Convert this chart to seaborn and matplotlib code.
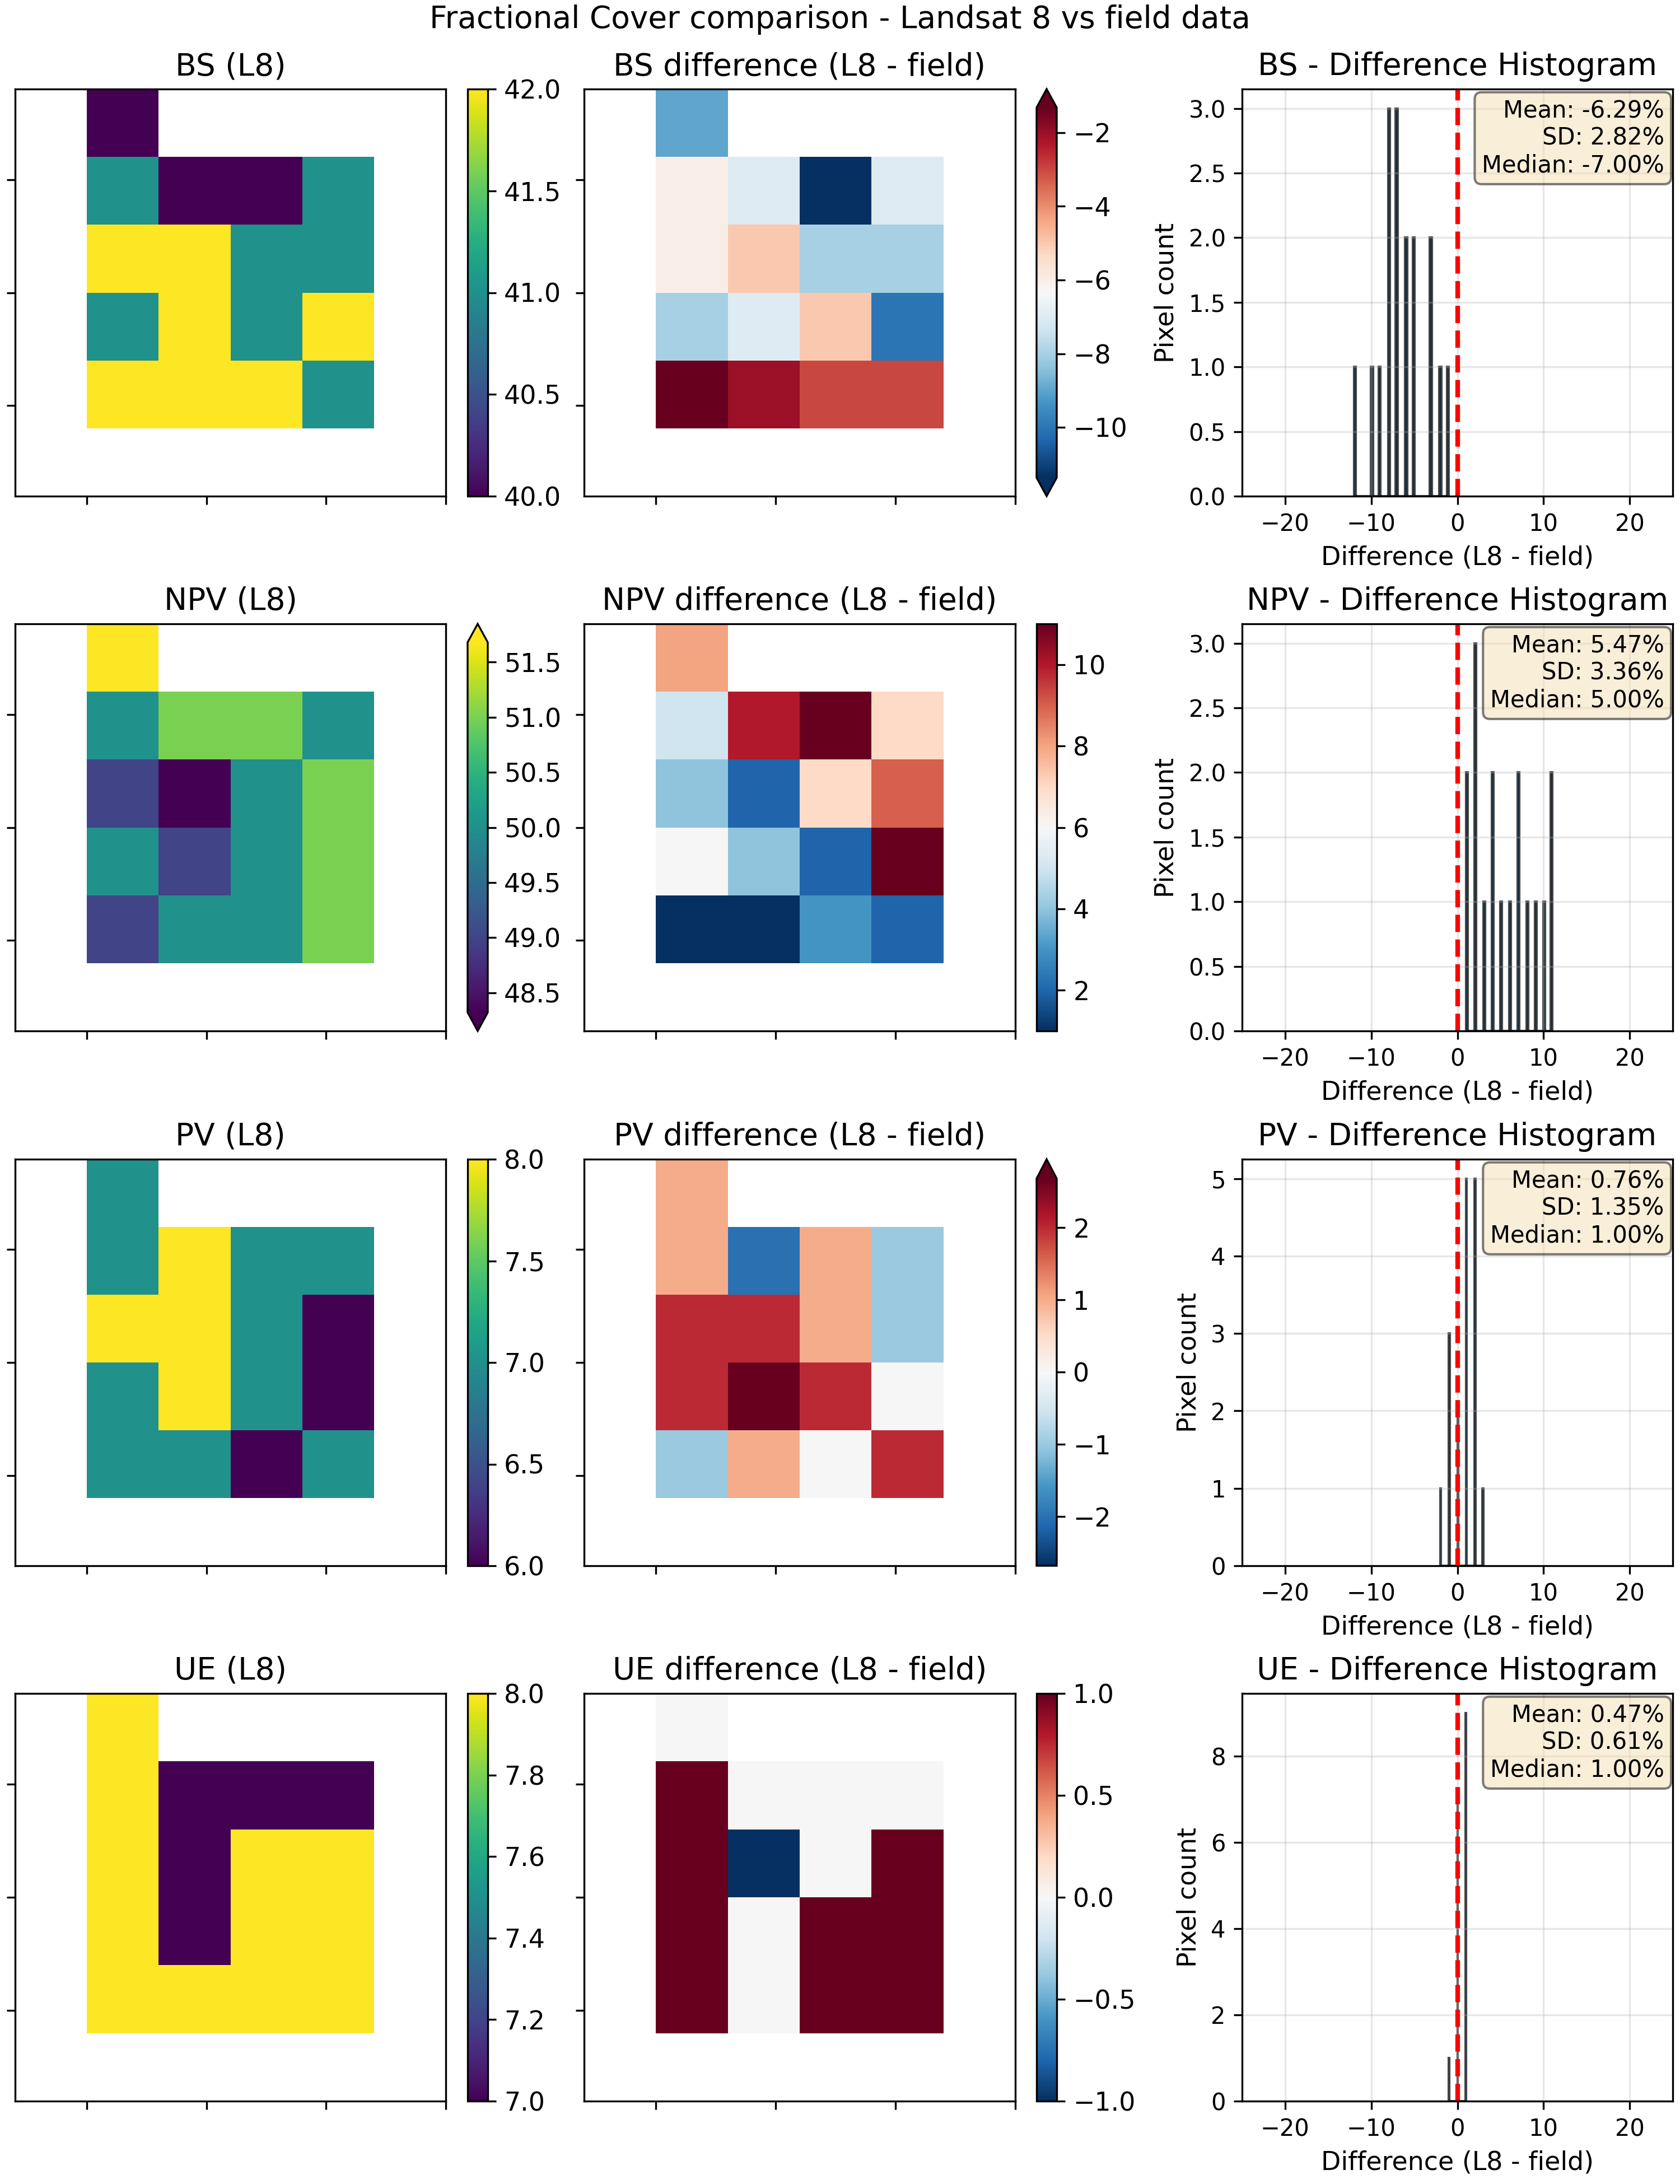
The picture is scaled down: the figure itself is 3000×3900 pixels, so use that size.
import numpy as np
import matplotlib
matplotlib.use('Agg')
import matplotlib.pyplot as plt
import seaborn as sns

plt.rcParams['font.size'] = 11

nan = np.nan

# FRACTIONAL COVER DATA (% cover, 6x6 pixel window, NaN = outside site)
components = ['BS', 'NPV', 'PV', 'UE']

bs_l8 = [[nan, 40, nan, nan, nan, nan],
         [nan, 41, 40, 40, 41, nan],
         [nan, 42, 42, 41, 41, nan],
         [nan, 41, 42, 41, 42, nan],
         [nan, 42, 42, 42, 41, nan],
         [nan, nan, nan, nan, nan, nan]]
bs_diff = [[nan, -9, nan, nan, nan, nan],
           [nan, -6, -7, -12, -7, nan],
           [nan, -6, -5, -8, -8, nan],
           [nan, -8, -7, -5, -10, nan],
           [nan, -1, -2, -3, -3, nan],
           [nan, nan, nan, nan, nan, nan]]

npv_l8 = [[nan, 52, nan, nan, nan, nan],
          [nan, 50, 51, 51, 50, nan],
          [nan, 49, 48, 50, 51, nan],
          [nan, 50, 49, 50, 51, nan],
          [nan, 49, 50, 50, 51, nan],
          [nan, nan, nan, nan, nan, nan]]
npv_diff = [[nan, 8, nan, nan, nan, nan],
            [nan, 5, 10, 11, 7, nan],
            [nan, 4, 2, 7, 9, nan],
            [nan, 6, 4, 2, 11, nan],
            [nan, 1, 1, 3, 2, nan],
            [nan, nan, nan, nan, nan, nan]]

pv_l8 = [[nan, 7, nan, nan, nan, nan],
         [nan, 7, 8, 7, 7, nan],
         [nan, 8, 8, 7, 6, nan],
         [nan, 7, 8, 7, 6, nan],
         [nan, 7, 7, 6, 7, nan],
         [nan, nan, nan, nan, nan, nan]]
pv_diff = [[nan, 1, nan, nan, nan, nan],
           [nan, 1, -2, 1, -1, nan],
           [nan, 2, 2, 1, -1, nan],
           [nan, 2, 3, 2, 0, nan],
           [nan, -1, 1, 0, 2, nan],
           [nan, nan, nan, nan, nan, nan]]

ue_l8 = [[nan, 8, nan, nan, nan, nan],
         [nan, 8, 7, 7, 7, nan],
         [nan, 8, 7, 8, 8, nan],
         [nan, 8, 7, 8, 8, nan],
         [nan, 8, 8, 8, 8, nan],
         [nan, nan, nan, nan, nan, nan]]
ue_diff = [[nan, 0, nan, nan, nan, nan],
           [nan, 1, 0, 0, 0, nan],
           [nan, 1, -1, 0, 1, nan],
           [nan, 1, 0, 1, 1, nan],
           [nan, 1, 0, 1, 1, nan],
           [nan, nan, nan, nan, nan, nan]]

l8_grids = [bs_l8, npv_l8, pv_l8, ue_l8]
diff_grids = [bs_diff, npv_diff, pv_diff, ue_diff]


def color_limits(arr, symmetric=False):
    # 2nd-98th percentile stretch, symmetric about 0 for differences that cross it
    lo, hi = np.nanpercentile(arr, [2, 98])
    if symmetric and lo < 0 < hi:
        v = max(abs(lo), abs(hi))
        lo, hi = -v, v
    below = np.nanmin(arr) < lo
    above = np.nanmax(arr) > hi
    extend = {(True, True): 'both', (True, False): 'min',
              (False, True): 'max', (False, False): 'neither'}[(below, above)]
    return lo, hi, extend


# LAYOUT (pixel boxes on a 3000x3900 canvas)
W, H = 3000, 3900


def box(x0, x1, top, bottom):
    return [x0 / W, 1 - bottom / H, (x1 - x0) / W, (bottom - top) / H]


rows = [(159, 886), (1114, 1841), (2070, 2796), (3024, 3752)]
map_cols = [(27, 796, 835, 871), (1043, 1813, 1851, 1887)]
hist_col = (2218, 2987)

fig = plt.figure(figsize=(10, 13), dpi=300)


def draw_map(ax, cax, grid, cmap, title, symmetric):
    arr = np.array(grid, dtype=float)
    lo, hi, ext = color_limits(arr, symmetric)
    sns.heatmap(arr, ax=ax, cbar_ax=cax, cmap=cmap, vmin=lo, vmax=hi,
                cbar_kws={'extend': ext})
    for s in ax.spines.values():
        s.set_visible(True)
        s.set_linewidth(0.8)
    ax.set_xticks(np.arange(1, 6.01, 5 / 3))
    ax.set_yticks(np.arange(4 / 3, 6, 5 / 3))
    ax.set_xticklabels([])
    ax.set_yticklabels([])
    ax.tick_params(length=3.5, width=0.8)
    ax.set_title(title)
    cb = ax.collections[0].colorbar
    cb.outline.set_linewidth(0.8)
    cb.outline.set_edgecolor('black')
    cax.tick_params(labelsize=11, length=3.5, width=0.8)


for i, name in enumerate(components):
    top, bottom = rows[i]
    # L8 map
    x0, x1, c0, c1 = map_cols[0]
    ax = fig.add_axes(box(x0, x1, top, bottom))
    cax = fig.add_axes(box(c0, c1, top, bottom))
    draw_map(ax, cax, l8_grids[i], 'viridis', f'{name} (L8)', False)

    # difference map
    x0, x1, c0, c1 = map_cols[1]
    ax = fig.add_axes(box(x0, x1, top, bottom))
    cax = fig.add_axes(box(c0, c1, top, bottom))
    draw_map(ax, cax, diff_grids[i], 'RdBu_r', f'{name} difference (L8 - field)', True)

    # histogram of differences
    ax = fig.add_axes(box(hist_col[0], hist_col[1], top, bottom))
    vals = np.array(diff_grids[i], dtype=float).ravel()
    vals = vals[~np.isnan(vals)]
    sns.histplot(x=vals, bins=50, ax=ax, color='#1f77b4', edgecolor=(0, 0, 0, 0.7),
                 linewidth=1, alpha=0.7)
    ax.axvline(0, color='red', linestyle='--', linewidth=2)
    ax.set_xlim(-25, 25)
    ax.set_title(f'{name} - Difference Histogram')
    ax.set_xlabel('Difference (L8 - field)')
    ax.set_ylabel('Pixel count')
    ax.tick_params(labelsize=10)
    ax.grid(True, alpha=0.3)
    stats = (f'Mean: {vals.mean():.2f}%\nSD: {vals.std():.2f}%\n'
             f'Median: {np.median(vals):.2f}%')
    ax.text(0.98, 0.975, stats, transform=ax.transAxes, ha='right', va='top',
            fontsize=10, bbox=dict(boxstyle='round', facecolor='wheat', alpha=0.5))

fig.suptitle('Fractional Cover comparison - Landsat 8 vs field data',
             y=1 - 35 / H, va='center')

fig.savefig('out.png', dpi=300)
